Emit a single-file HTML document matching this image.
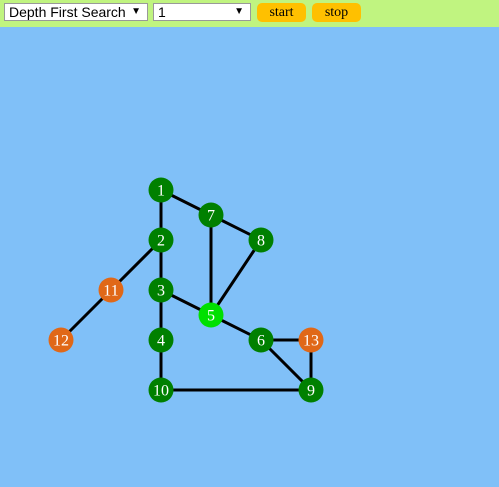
<!DOCTYPE html>
<html><head><meta charset="utf-8"><style>
body{margin:0;width:499px;height:487px;background:#80c0f8;overflow:hidden;font-family:"Liberation Sans",sans-serif}
#bar{position:absolute;left:0;top:0;width:499px;height:27px;background:#c0f480}
.sel{position:absolute;top:3px;height:18px;background:#fff;border:1px solid #999;box-sizing:border-box;font-size:14px;line-height:16px;padding-left:4px;color:#000}
.sel span{position:absolute;right:6px;top:0;font-size:10px}
.btn{position:absolute;top:3px;height:19px;width:49px;background:#ffc000;border-radius:5px;font-family:"Liberation Serif",serif;font-size:14px;text-align:center;line-height:19px}
</style></head><body>
<div id="bar">
<div class="sel" style="left:4px;width:144px">Depth First Search<span>▼</span></div>
<div class="sel" style="left:153px;width:98px">1<span>▼</span></div>
<div class="btn" style="left:257px">start</div>
<div class="btn" style="left:312px">stop</div>
</div>
<svg id="g" width="499" height="487" style="position:absolute;left:0;top:0;pointer-events:none"></svg>
<script>
const nodeIds=[1,2,3,4,5,6,7,8,9,10,11,12,13];
const nodeX=[161,161,161,161,211,261,211,261,311,161,111,61,311];
const nodeY=[190,240,290,340,315,340,215,240,390,390,290,340,340];
const nodeState=["v","v","v","v","c","v","v","v","v","v","o","o","o"];
const edges=[[1,2],[1,7],[7,8],[7,5],[8,5],[2,3],[2,11],[11,12],[3,4],[3,5],[5,6],[6,13],[6,9],[13,9],[4,10],[10,9]];
const colors={v:"#008000",c:"#00e000",o:"#e06818"};
const svg=document.getElementById('g');const NS="http://www.w3.org/2000/svg";
const px=id=>nodeX[nodeIds.indexOf(id)],py=id=>nodeY[nodeIds.indexOf(id)];
edges.forEach(e=>{const l=document.createElementNS(NS,'line');
l.setAttribute('x1',px(e[0]));l.setAttribute('y1',py(e[0]));l.setAttribute('x2',px(e[1]));l.setAttribute('y2',py(e[1]));
l.setAttribute('stroke','#000');l.setAttribute('stroke-width','3');


svg.appendChild(l);});
nodeIds.forEach((id,i)=>{const c=document.createElementNS(NS,'circle');
c.setAttribute('cx',nodeX[i]);c.setAttribute('cy',nodeY[i]);c.setAttribute('r','12.5');c.setAttribute('fill',colors[nodeState[i]]);


svg.appendChild(c);
const t=document.createElementNS(NS,'text');t.textContent=id;
t.setAttribute('x',nodeX[i]);t.setAttribute('y',nodeY[i]+5.5);t.setAttribute('text-anchor','middle');
t.setAttribute('fill','#fff');t.setAttribute('font-family','Liberation Serif, serif');t.setAttribute('font-size','16');


svg.appendChild(t);});
</script>
</body></html>
